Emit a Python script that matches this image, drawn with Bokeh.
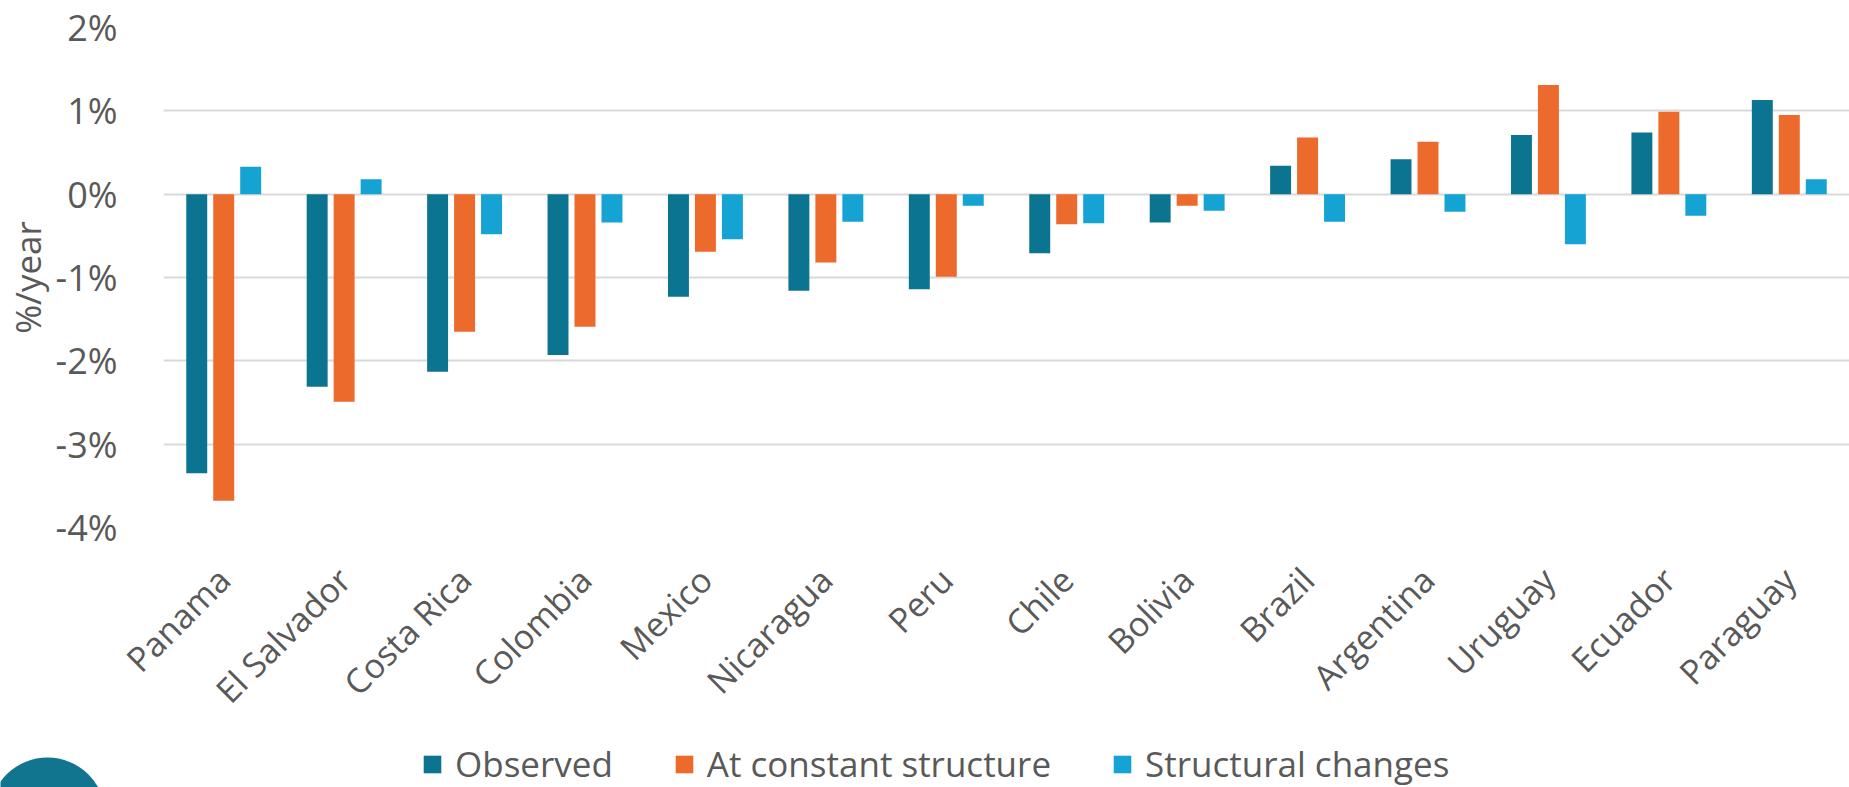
import numpy as np
from bokeh.plotting import figure
from bokeh.layouts import column
from bokeh.models import (ColumnDataSource, FactorRange, Range1d, FixedTicker,
                          PrintfTickFormatter, Legend, LegendItem)
from bokeh.transform import dodge
from bokeh.embed import file_html
from bokeh.resources import INLINE

countries = ["Panama", "El Salvador", "Costa Rica", "Colombia", "Mexico", "Nicaragua",
             "Peru", "Chile", "Bolivia", "Brazil", "Argentina", "Uruguay", "Ecuador", "Paraguay"]
observed = [-3.35, -2.31, -2.13, -1.93, -1.23, -1.16, -1.14, -0.71, -0.34, 0.34, 0.42, 0.71, 0.74, 1.13]
constant_structure = [-3.68, -2.49, -1.65, -1.59, -0.69, -0.82, -0.99, -0.36, -0.14, 0.68, 0.63, 1.31, 0.99, 0.95]
structural_changes = [0.33, 0.18, -0.48, -0.34, -0.54, -0.33, -0.14, -0.35, -0.20, -0.33, -0.21, -0.60, -0.26, 0.18]
series_names = ["Observed", "At constant structure", "Structural changes"]
y_ticks = [-4, -3, -2, -1, 0, 1, 2]

FONT = "Open Sans"
GRAY = "#595959"
COLORS = ["#0B7591", "#EC6A2C", "#15A3D3"]
LOGO = "#12758F"

W = 1849
LEG_H = 48

src = ColumnDataSource(dict(country=countries, obs=observed, con=constant_structure,
                            stru=structural_changes))

# ---------------- main chart ----------------
p = figure(width=W, height=787 - LEG_H, output_backend="svg", toolbar_location=None,
           x_range=FactorRange(*countries, range_padding=0), y_range=Range1d(-4, 2),
           min_border_left=162, min_border_right=0, min_border_top=27, min_border_bottom=212)
p.frame_align = False
p.outline_line_color = None
p.background_fill_color = "white"
p.border_fill_color = "white"

w = 0.174
off = 0.224
for col, dx, c in zip(["obs", "con", "stru"], [-off, 0, off], COLORS):
    p.vbar(x=dodge("country", dx, range=p.x_range), top=col, bottom=0, width=w,
           source=src, fill_color=c, line_color=None)

p.xgrid.grid_line_color = None
p.ygrid.grid_line_color = "#D9D9D9"
p.ygrid.grid_line_width = 2
p.yaxis.ticker = FixedTicker(ticks=y_ticks)
p.yaxis.formatter = PrintfTickFormatter(format="%d%%")

for ax in (p.xaxis[0], p.yaxis[0]):
    ax.axis_line_color = None
    ax.major_tick_line_color = None
    ax.minor_tick_line_color = None
    ax.major_label_text_font = FONT
    ax.major_label_text_color = GRAY

p.yaxis.major_label_text_font_size = "36px"
p.xaxis.major_label_text_font_size = "34px"
p.yaxis.major_label_standoff = 40
p.yaxis.axis_label = "%/year"
p.yaxis.axis_label_text_font = FONT
p.yaxis.axis_label_text_font_size = "35px"
p.yaxis.axis_label_text_font_style = "normal"
p.yaxis.axis_label_text_color = GRAY
p.yaxis.axis_label_standoff = 2

p.xaxis.major_label_orientation = np.pi / 4
p.xaxis.major_label_standoff = 40

# ---------------- legend strip ----------------
leg = figure(width=W, height=LEG_H, output_backend="svg", toolbar_location=None,
             x_range=Range1d(0, W), y_range=Range1d(0, LEG_H),
             x_axis_location=None, y_axis_location=None,
             min_border_left=0, min_border_right=0, min_border_top=0, min_border_bottom=0)
leg.frame_align = False
leg.outline_line_color = None
leg.xgrid.visible = False
leg.ygrid.visible = False
leg.background_fill_color = "white"
leg.border_fill_color = "white"

# decorative circle (page badge) at bottom-left corner
leg.circle(x=[47], y=[-28], radius=58, fill_color=LOGO, line_color=None)

items = []
for name, c in zip(series_names, COLORS):
    # off-canvas proxy bar, only used to draw the legend swatch
    r = leg.vbar(x=[-500], top=[0], width=1, fill_color=c, line_color=None)
    items.append(LegendItem(label=name, renderers=[r]))

legend = Legend(items=items, orientation="horizontal", location=(421, 0),
                label_text_font=FONT, label_text_font_size="35px", label_text_color=GRAY,
                glyph_width=22, glyph_height=22, label_standoff=12, spacing=60,
                padding=0, margin=0, border_line_color=None, background_fill_alpha=0)
leg.add_layout(legend)

layout = column(p, leg, spacing=0)
open("out.html", "w").write(file_html(layout, INLINE))
